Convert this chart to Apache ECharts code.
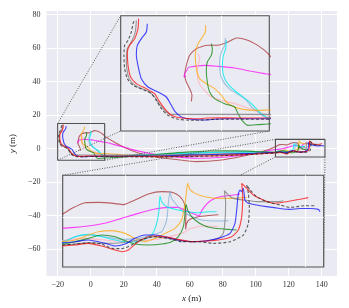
<!DOCTYPE html>
<html><head><meta charset="utf-8">
<script src="https://cdn.jsdelivr.net/npm/echarts@6/dist/echarts.min.js"></script>
<style>html,body{margin:0;padding:0;background:#fff}#c{width:349px;height:308px}</style>
</head><body><div id="c"></div>
<script>
// ---- ticks & ranges ----
const xTicks = [-20, 0, 20, 40, 60, 80, 100, 120, 140];
const yTicks = [-60, -40, -20, 0, 20, 40, 60, 80];
const mainXRange = [-26.8, 149.3];
const mainYRange = [-76.2, 82.2];
const inset1XRange = [-20, 8.5];
const inset1YRange = [-7, 15];
const inset2XRange = [112, 142];
const inset2YRange = [-5, 5.5];
const inset1XGrid = [-7.4, -0.7];
const inset1YGrid = [0.2];
const inset2XGrid = [119.2, 139.9];
const inset2YGrid = [0.7];

// ---- trajectories (x, y in metres) ----
const dashedTraj = [[-17.45,13.93],[-17.64,13.48],[-17.96,11.89],[-18.6,10.3],[-19.24,9.35],[-19.37,7.44],[-19.24,4.9],[-18.73,2.99],[-17.64,1.72],[-15.4,0.76],[-14.13,0.12],[-13.17,-1.15],[-12.21,-2.74],[-10.93,-4.01],[-9.01,-4.77],[-5.81,-4.96],[-1.34,-4.77],[2.5,-4.77],[8.89,-4.77],[20,-4.9],[40,-5.0],[60,-4.8],[80,-4.2],[100,-3.3],[111.96,-2.48],[113.41,-2.37],[114.95,-2.22],[116.48,-2.37],[117.63,-2.87],[118.78,-2.9],[119.93,-2.48],[121.08,-1.84],[122.61,-1.53],[124.14,-1.72],[125.67,-2.1],[127.4,-2.1],[129.32,-2.29],[131.23,-2.1],[132.76,-1.34],[133.34,0.0],[133.45,1.91],[133.34,3.43],[133.15,4.39],[133.53,3.82],[134.3,3.05],[135.44,2.48],[136.98,2.1],[138.13,1.83],[138.89,1.91],[139.85,2.02],[141.0,2.02]];
const grayTraj = [[-17.0,14.12],[-17.2,11.89],[-17.96,9.98],[-18.73,8.71],[-18.92,6.17],[-18.6,3.62],[-17.96,2.35],[-16.68,1.4],[-14.45,0.44],[-13.49,-0.51],[-12.53,-1.97],[-11.25,-3.37],[-10.29,-3.82],[-4.54,-3.82],[8.89,-3.82],[20,-3.9],[40,-3.8],[60,-3.5],[80,-3.2],[100,-2.9],[111.96,-2.48],[113.41,-2.37],[114.95,-2.22],[116.86,-2.29],[118.78,-2.22],[120.69,-1.91],[122.61,-1.53],[124.14,-1.72],[125.67,-1.99],[127.21,-2.1],[128.74,-1.99],[129.89,-1.72],[130.46,-1.15],[130.66,0.38],[130.73,2.29],[130.58,3.74],[131.04,3.24],[131.61,2.86],[132.76,2.67],[134.3,2.48],[136.59,2.48],[137.36,2.59]];
const redTraj = [[-16.56,14.44],[-16.68,12.53],[-17.32,10.62],[-18.28,9.35],[-18.73,8.08],[-18.6,5.53],[-18.09,3.31],[-17.0,2.03],[-15.09,1.08],[-13.49,0.12],[-12.72,-1.15],[-11.57,-2.74],[-10.29,-4.01],[-8.37,-4.52],[-5.17,-4.65],[-3.26,-4.52],[-1.34,-4.46],[2.5,-4.52],[8.89,-4.52],[20,-4.6],[40,-4.8],[60,-4.6],[80,-4.2],[100,-3.3],[111.96,-2.6],[113.41,-2.48],[114.95,-2.29],[116.48,-2.6],[118.01,-3.06],[118.78,-3.25],[119.54,-3.06],[120.69,-2.1],[122.23,-1.45],[123.76,-1.53],[125.29,-1.84],[126.82,-2.1],[128.36,-2.03],[129.89,-1.91],[131.42,-1.53],[132.19,-0.77],[132.57,0.76],[132.69,3.05],[132.57,4.58],[133.15,4.01],[133.91,3.24],[135.06,2.67],[136.21,2.29],[137.74,2.48],[139.28,2.75],[140.23,2.94]];
const blueTraj = [[-14.89,13.48],[-15.09,11.89],[-16.04,10.62],[-16.81,9.35],[-17.0,7.44],[-16.56,4.9],[-16.04,2.99],[-14.77,1.4],[-12.85,0.44],[-11.25,-0.51],[-10.29,-2.1],[-9.52,-3.37],[-8.37,-4.33],[-6.45,-4.77],[-3.9,-4.9],[-1.98,-4.77],[-0.06,-4.65],[8.89,-4.65],[20,-4.6],[40,-4.4],[60,-3.9],[80,-3.4],[100,-2.8],[111.96,-2.22],[113.41,-2.1],[114.95,-1.91],[116.86,-2.29],[118.01,-2.6],[119.16,-2.37],[120.31,-1.72],[121.46,-1.34],[122.61,-1.34],[123.76,-1.53],[125.29,-1.91],[126.82,-2.1],[128.36,-2.03],[129.89,-1.72],[131.23,-1.15],[131.8,0.0],[132.0,1.53],[132.19,3.43],[132.38,3.82],[132.57,3.63],[132.76,4.01],[132.95,2.67],[133.34,2.29],[134.3,2.1],[135.44,1.91],[136.98,1.7],[138.13,1.6],[139.28,1.7],[140.43,1.7],[141.38,1.6],[141.58,1.33]];
const orangeTraj = [[-3.71,13.17],[-3.77,11.89],[-4.54,10.62],[-5.3,9.35],[-5.69,7.44],[-5.49,4.9],[-4.86,2.99],[-3.58,2.03],[-1.98,1.08],[-0.7,-0.19],[0.26,-1.47],[1.54,-2.29],[3.46,-2.87],[6.33,-3.06],[8.89,-2.99],[20,-3.8],[40,-4.2],[60,-4.0],[80,-3.5],[100,-2.8],[111.96,-2.1],[113.41,-1.91],[114.95,-1.34],[116.1,-0.96],[117.63,-0.84],[119.16,-1.15],[120.31,-1.72],[121.46,-2.1],[122.61,-1.72],[123.76,-1.15],[124.91,-0.57],[125.67,0.38],[126.06,2.29],[126.25,3.82],[126.36,4.58],[126.63,3.89],[127.21,3.43],[128.36,3.05],[129.89,2.86],[131.42,2.86],[133.15,2.98]];
const greenTraj = [[-2.62,9.67],[-2.43,8.71],[-2.62,7.44],[-3.39,6.17],[-3.58,4.58],[-3.39,2.35],[-2.94,0.44],[-1.98,-0.83],[-0.06,-1.78],[1.86,-2.42],[2.5,-3.69],[3.27,-4.96],[4.42,-5.92],[6.33,-5.79],[8.89,-5.6],[20,-5.0],[40,-3.5],[60,-2.0],[80,-1.3],[95,-1.5],[105,-2.0],[111.96,-2.37],[113.41,-2.1],[114.95,-1.72],[116.48,-1.34],[118.01,-1.53],[119.16,-1.99],[120.31,-2.37],[121.84,-2.48],[123.38,-2.37],[124.52,-2.1],[125.29,-1.53],[125.87,-0.38],[126.06,1.14],[126.17,2.17],[126.44,1.33],[127.21,0.38],[128.36,-0.31],[129.51,-0.57],[131.04,-0.69],[132.0,-0.77]];
const brownTraj = [[-6.45,-1.34],[-6.33,-0.19],[-6.77,1.08],[-7.41,2.35],[-7.73,3.62],[-7.41,5.53],[-6.77,7.44],[-5.49,8.71],[-3.26,9.35],[-1.34,9.35],[0.58,9.98],[2.18,10.75],[3.78,10.49],[5.7,9.67],[7.61,8.39],[8.89,7.12],[15,3.5],[22,0],[30,-3],[40,-5],[52,-6.5],[64,-7.8],[78,-7],[92,-4.6],[103,-2.0],[108,-0.5],[111.96,1.07],[113.03,1.7],[114.56,2.36],[116.1,2.4],[117.82,2.29],[118.97,2.14],[120.31,2.67],[121.84,3.36],[123.38,3.63],[124.72,3.51],[125.48,3.05],[125.98,2.29],[126.17,1.14],[126.13,0.0],[126.13,-0.69],[126.25,0.0],[126.63,0.46],[127.59,0.76],[128.74,0.9],[129.89,0.99]];
const pinkTraj = [[-5.17,7.76],[-4.86,6.8],[-5.17,5.53],[-5.3,3.94],[-5.05,2.35],[-4.22,1.08],[-2.62,-0.51],[-0.7,-1.15],[1.22,-1.59],[3.78,-2.42],[6.33,-3.37],[8.89,-4.14],[20,-4.5],[40,-4.3],[60,-3.6],[80,-3.0],[100,-2.4],[111.96,-1.99],[114.18,-1.72],[116.86,-1.91],[118.78,-2.07],[121.08,-1.99],[123.38,-1.72],[125.67,-1.15],[126.82,-0.57],[128.36,-0.31],[129.89,-0.38]];
const magentaTraj = [[-7.41,3.5],[-7.86,3.31],[-7.73,3.94],[-7.41,4.39],[-7.09,5.02],[-6.77,5.21],[-3.9,5.53],[-1.34,5.34],[1.86,5.02],[5.06,4.39],[7.61,3.94],[8.89,3.75],[15,2.2],[25,-0.5],[35,-2.8],[50,-4.8],[65,-5.8],[80,-5.2],[95,-3.5],[105,-1.8],[111.96,-0.57],[113.41,-0.46],[114.95,-0.31],[116.86,0.0],[118.78,0.57],[120.69,1.14],[122.61,1.64],[124.14,1.83],[125.29,1.83],[125.87,1.6],[126.44,1.33],[127.21,1.03],[127.67,0.84],[127.97,1.45],[128.55,2.21],[129.12,2.67],[130.08,3.05],[131.61,3.24],[132.38,3.36]];
const lightblueTraj = [[0.07,10.75],[-0.06,9.35],[-0.7,8.08],[-1.02,6.17],[-0.83,3.62],[-0.06,2.03],[1.22,0.76],[2.82,-0.19],[4.1,-1.15],[5.06,-2.42],[6.33,-3.37],[7.61,-4.33],[8.89,-4.52],[20,-4.3],[40,-3.6],[60,-2.9],[80,-2.3],[100,-2.1],[111.96,-2.03],[113.8,-1.45],[115.33,-1.34],[116.86,-1.53],[118.78,-1.84],[120.69,-1.72],[122.23,-1.34],[123.38,-0.96],[123.95,0.38],[124.14,2.29],[124.33,3.63],[124.52,2.86],[125.1,2.1],[125.87,1.33],[126.82,0.76],[127.97,0.38],[129.51,0.27],[131.04,0.3]];
const cyanTraj = [[0.26,10.3],[0.13,8.71],[-0.38,7.12],[-0.51,5.21],[-0.06,2.99],[0.9,1.59],[2.18,0.44],[3.46,-0.51],[4.74,-1.47],[6.01,-2.74],[6.97,-3.69],[7.93,-4.33],[8.89,-4.52],[20,-4.2],[40,-3.4],[60,-2.7],[80,-2.2],[100,-2.1],[111.96,-2.22],[113.41,-1.53],[114.95,-1.26],[116.48,-1.53],[118.01,-1.91],[119.54,-2.14],[121.08,-1.99],[122.23,-1.34],[122.8,0.0],[123.07,1.53],[123.18,3.13],[123.38,2.48],[123.95,1.91],[125.29,1.53],[126.44,1.33],[127.59,1.22],[128.74,1.33],[129.7,1.33]];

// ---- styling table ----
const trajectories = [
  {data: brownTraj, color: 'rgba(165,42,42,0.72)'},
  {data: magentaTraj, color: 'rgba(255,0,255,0.72)'},
  {data: pinkTraj, color: 'rgba(255,182,193,0.85)'},
  {data: lightblueTraj, color: 'rgba(135,180,215,0.8)'},
  {data: cyanTraj, color: 'rgba(0,235,240,0.8)'},
  {data: orangeTraj, color: 'rgba(255,165,0,0.72)'},
  {data: greenTraj, color: 'rgba(0,128,0,0.72)'},
  {data: grayTraj, color: 'rgba(128,128,128,0.8)'},
  {data: blueTraj, color: 'rgba(0,0,255,0.72)'},
  {data: redTraj, color: 'rgba(255,0,0,0.72)'},
  {data: dashedTraj, color: 'rgba(40,40,40,0.75)', dashed: true}
];

const FONT = 'Liberation Serif';
const fmt = v => (v < 0 ? '\u2212' + Math.abs(v) : String(v));

function mainAxis(isX) {
  const ticks = isX ? xTicks : yTicks;
  const r = isX ? mainXRange : mainYRange;
  return {
    type: 'value', gridIndex: 0, min: r[0], max: r[1],
    axisLine: {show: false},
    axisTick: {show: false, customValues: ticks},
    axisLabel: {customValues: ticks, formatter: fmt, fontFamily: FONT, fontSize: 8, color: '#333', margin: isX ? 5 : 6},
    splitLine: {show: true, lineStyle: {color: '#ffffff', width: 1}},
    name: isX ? '{i|x} (m)' : '{i|y} (m)',
    nameLocation: 'middle', nameGap: isX ? 14 : 21,
    nameRotate: isX ? 0 : 90,
    nameTextStyle: {fontFamily: FONT, fontSize: 9, color: '#222',
      rich: {i: {fontFamily: FONT, fontSize: 9, fontStyle: 'italic', color: '#222'}}}
  };
}
function insetAxis(g, r, grid) {
  return {
    type: 'value', gridIndex: g, min: r[0], max: r[1], z: 11,
    axisLine: {show: false},
    axisTick: {show: false, customValues: grid},
    axisLabel: {show: false},
    splitLine: {show: true, lineStyle: {color: '#ffffff', width: 1}}
  };
}

const insets = [
  {grid: 1, xr: inset1XRange, yr: inset1YRange},
  {grid: 2, xr: inset2XRange, yr: inset2YRange}
];

function buildOption(connectors) {
  const series = [];
  const views = [{g: 0, z: 2, w: 1.1}, {g: 1, z: 12, w: 1.1}, {g: 2, z: 12, w: 1.1}];
  views.forEach(v => trajectories.forEach(t => series.push({
    type: 'line', xAxisIndex: v.g, yAxisIndex: v.g, data: t.data,
    symbol: 'none', showSymbol: false, smooth: 0.2, silent: true, z: v.z,
    lineStyle: {color: t.color, width: v.w, type: t.dashed ? [3, 2] : 'solid'}
  })));
  insets.forEach(ins => {
    const [x0, x1] = ins.xr, [y0, y1] = ins.yr;
    series.push({
      type: 'line', xAxisIndex: 0, yAxisIndex: 0, z: 4, symbol: 'none', silent: true,
      data: [[x0, y0], [x1, y0], [x1, y1], [x0, y1], [x0, y0]],
      lineStyle: {color: '#505050', width: 1.1}
    });
  });
  (connectors || []).forEach(c => series.push({
    type: 'line', xAxisIndex: 0, yAxisIndex: 0, z: 3, symbol: 'none', silent: true,
    data: c, lineStyle: {color: '#333', width: 0.8, type: [1, 1.5]}
  }));
  return {
    animation: false,
    backgroundColor: '#ffffff',
    grid: [
      {left: 41, top: 11, width: 296, height: 266, show: true, backgroundColor: '#EAEAF2', borderWidth: 0, z: 0},
      {left: 120.7, top: 15.7, width: 148.6, height: 115.3, show: true, backgroundColor: '#EAEAF2', borderColor: '#505050', borderWidth: 1.1, z: 10},
      {left: 62.7, top: 175.3, width: 261, height: 91.7, show: true, backgroundColor: '#EAEAF2', borderColor: '#505050', borderWidth: 1.1, z: 10}
    ],
    xAxis: [mainAxis(true), insetAxis(1, inset1XRange, inset1XGrid), insetAxis(2, inset2XRange, inset2XGrid)],
    yAxis: [mainAxis(false), insetAxis(1, inset1YRange, inset1YGrid), insetAxis(2, inset2YRange, inset2YGrid)],
    series
  };
}

const chart = echarts.init(document.getElementById('c'), null, {renderer: 'canvas'});
chart.setOption(buildOption([]));
// connectors: box corner -> same corner of inset, expressed in main data coords
const connectors = [];
insets.forEach(ins => {
  const [x0, x1] = ins.xr, [y0, y1] = ins.yr;
  [[x0, y1], [x0, y0], [x1, y0]].forEach(pt => {
    const px = chart.convertToPixel({gridIndex: ins.grid}, pt);
    const m = chart.convertFromPixel({gridIndex: 0}, px);
    connectors.push([pt, m]);
  });
});
chart.setOption(buildOption(connectors), true);
</script></body></html>
